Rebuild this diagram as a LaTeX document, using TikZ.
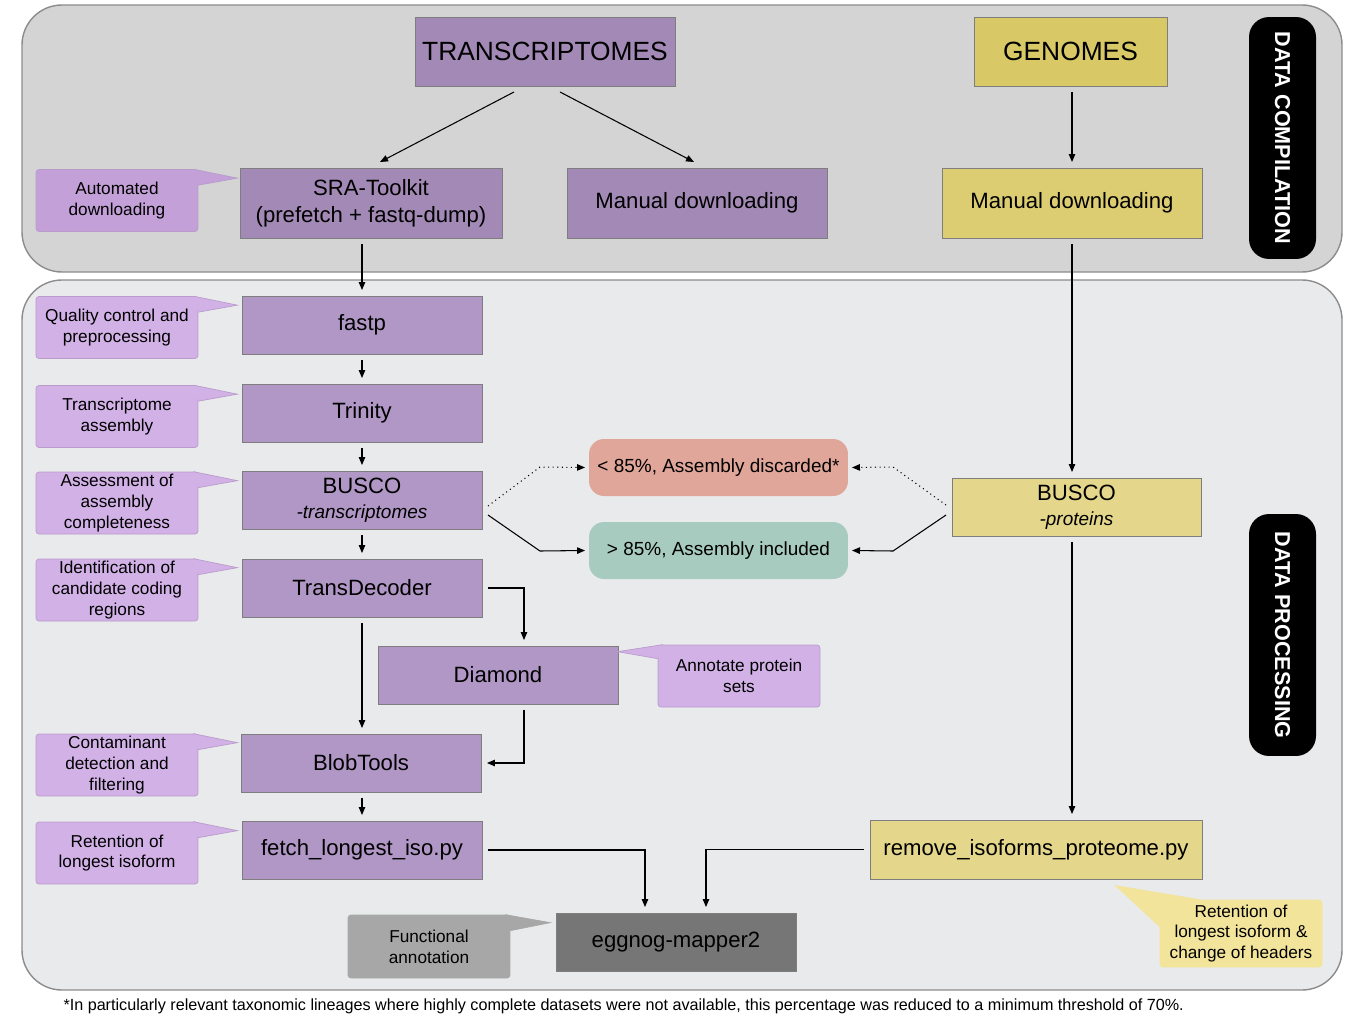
\documentclass[tikz,border=0pt]{standalone}
\usepackage{fontspec}
\setmainfont{Liberation Sans}
\usetikzlibrary{arrows.meta,calc}
\definecolor{toppanel}{HTML}{D3D4D3}
\definecolor{botpanel}{HTML}{E9EAEB}
\definecolor{panelline}{HTML}{8C8C8C}
\definecolor{boxline}{HTML}{7E7E7E}
\definecolor{purpletop}{HTML}{A389B5}
\definecolor{purplebot}{HTML}{B197C5}
\definecolor{notetop}{HTML}{C3A1D8}
\definecolor{notebot}{HTML}{D2B1E7}
\definecolor{noteline}{HTML}{B99CCB}
\definecolor{yellowtop}{HTML}{D9C866}
\definecolor{yellowmid}{HTML}{DCCD72}
\definecolor{yellowbot}{HTML}{E4D68A}
\definecolor{yellownote}{HTML}{F2E49A}
\definecolor{discard}{HTML}{E0A69A}
\definecolor{include}{HTML}{A8CBC0}
\definecolor{eggfill}{HTML}{767676}
\definecolor{grayNote}{HTML}{A6A7A6}
\tikzset{
    >={Triangle[length=0.16cm,width=0.13cm]},
    panel/.style = {draw=panelline, line width=0.8pt, rounded corners=0.8cm},
    box/.style = {draw=boxline, line width=0.5pt, outer sep=0.12cm, align=center, font=\fontsize{12.6}{15.5}\selectfont},
    note/.style = {draw=noteline, line width=0.4pt, rounded corners=0.06cm, minimum width=3.24cm, minimum height=1.24cm, inner sep=0pt, align=center, font=\fontsize{9.8}{11.9}\selectfont},
    pointer/.style = {draw=noteline, line width=0.4pt},
    status/.style = {rounded corners=0.3cm, minimum width=5.18cm, minimum height=1.14cm, outer sep=0.08cm, font=\fontsize{10.8}{13}\selectfont},
    tag/.style = {fill=black, text=white, rounded corners=0.4cm, minimum width=4.84cm, minimum height=1.34cm, rotate=-90, font=\bfseries\fontsize{12.3}{14}\selectfont},
}
\begin{document}
\begin{tikzpicture}[x=0.02cm, y=-0.02cm, line width=0.6pt]
    \useasboundingbox (0,0) rectangle (1365,1024);
    \draw[panel, fill=toppanel] (22,5) rectangle (1342,272);
    \draw[panel, fill=botpanel] (22,280) rectangle (1342,990);
    \node[tag] (compil) at (1282.5,138) {DATA COMPILATION};
    \node[tag] (process) at (1282.5,635) {DATA PROCESSING};

    \node[box, fill=purpletop, minimum width=5.2cm, minimum height=1.38cm, font=\fontsize{15}{18}\selectfont] (trans) at (545,51.5) {TRANSCRIPTOMES};
    \node[box, fill=yellowtop, minimum width=3.86cm, minimum height=1.38cm, font=\fontsize{15}{18}\selectfont] (genomes) at (1070.5,51.5) {GENOMES};
    \node[box, fill=purpletop, minimum width=5.24cm, minimum height=1.4cm] (sra) at (371,203) {SRA-Toolkit\\(prefetch + fastq-dump)};
    \node[box, fill=purpletop, minimum width=5.2cm, minimum height=1.4cm] (manT) at (697,203) {Manual downloading};
    \node[box, fill=yellowmid, minimum width=5.2cm, minimum height=1.4cm] (manG) at (1072,203) {Manual downloading};

    \node[box, fill=purplebot, minimum width=4.8cm, minimum height=1.16cm] (fastp) at (362,325) {fastp};
    \node[box, fill=purplebot, minimum width=4.8cm, minimum height=1.16cm] (trinity) at (362,413) {Trinity};
    \node[box, fill=purplebot, minimum width=4.8cm, minimum height=1.16cm] (buscoT) at (362,500) {BUSCO\\[-1pt]{\fontsize{10.8}{13}\selectfont\itshape -transcriptomes}};
    \node[box, fill=purplebot, minimum width=4.8cm, minimum height=1.16cm] (tdec) at (362,588) {TransDecoder};
    \node[box, fill=purplebot, minimum width=4.8cm, minimum height=1.16cm] (diamond) at (498,675) {Diamond};
    \node[box, fill=purplebot, minimum width=4.8cm, minimum height=1.16cm] (blob) at (361,763) {BlobTools};
    \node[box, fill=purplebot, minimum width=4.8cm, minimum height=1.16cm] (fetch) at (362,850) {fetch\_longest\_iso.py};
    \node[box, fill=eggfill, minimum width=4.8cm, minimum height=1.16cm] (egg) at (676,942) {eggnog-mapper2};
    \node[box, fill=yellowbot, minimum width=4.98cm, minimum height=1.16cm] (buscoP) at (1076.5,507) {BUSCO\\[-1pt]{\fontsize{10.8}{13}\selectfont\itshape -proteins}};
    \node[box, fill=yellowbot, minimum width=6.64cm, minimum height=1.18cm] (remiso) at (1036,849.5) {remove\_isoforms\_proteome.py};
    \node[status, fill=discard] (discard) at (718.5,467.5) {< 85\%, Assembly discarded*};
    \node[status, fill=include] (included) at (718.5,550.5) {> 85\%, Assembly included};

    \foreach \y/\txt/\name/\col in {200.5/{Automated\\downloading}/auto/notetop,
        327.5/{Quality control and\\preprocessing}/quality/notebot,
        416.5/{Transcriptome\\assembly}/assembly/notebot,
        503/{Assessment of\\assembly\\completeness}/assess/notebot,
        590/{Identification of\\candidate coding\\regions}/ident/notebot,
        765/{Contaminant\\detection and\\filtering}/contam/notebot,
        853/{Retention of\\longest isoform}/retain/notebot}
    {
        \node[note, fill=\col] (\name) at (117,\y) {\txt};
        \draw[pointer, fill=\col] ([xshift=-0.1cm]\name.north east) -- ++(44,9) -- ([yshift=-0.32cm]\name.north east);
    }
    \node[note, fill=notebot] (annot) at (739,676) {Annotate protein\\sets};
    \draw[pointer, fill=notebot] ([xshift=0.1cm]annot.north west) -- ++(-45,7) -- ([yshift=-0.28cm]annot.north west);
    \node[note, fill=grayNote, draw=grayNote, minimum height=1.26cm] (func) at (429,946.5) {Functional\\annotation};
    \draw[pointer, fill=grayNote, draw=grayNote] ([xshift=-0.1cm]func.north east) -- ++(45,8) -- ([yshift=-0.32cm]func.north east);
    \node[note, fill=yellownote, draw=yellownote, minimum height=1.34cm] (headers) at (1241,933.5) {Retention of\\longest isoform \&\\change of headers};
    \draw[pointer, fill=yellownote, draw=yellownote] ([xshift=0.8cm]headers.north west) -- ++(-84,-14) -- ([yshift=-0.54cm]headers.north west);

    \draw[->] ($(trans.south)+(-31,0)$) -- ($(sra.north)+(9,0)$);
    \draw[->] ($(trans.south)+(15,0)$) -- ($(manT.north)+(-3,0)$);
    \draw[->] (manG.north |- genomes.south) -- (manG.north);
    \draw[->] (fastp.north |- sra.south) -- (fastp.north);
    \draw[->] (fastp) -- (trinity);
    \draw[->] (trinity) -- (buscoT);
    \draw[->] (buscoT) -- (tdec);
    \draw[->] (tdec.south) -- (tdec.south |- blob.north);
    \draw[->] (blob.south -| fetch.north) -- (fetch.north);
    \draw[->] (tdec.east) -| ($(diamond.north)+(26,0)$);
    \draw[->] ($(diamond.south)+(26,0)$) |- (blob.east);
    \draw[->] (fetch.east) -| ($(egg.north)+(-31,0)$);
    \draw[->] (remiso.west) -| ($(egg.north)+(30,0)$);
    \draw[->] (manG.south) -- (manG.south |- buscoP.north);
    \draw[->] (manG.south |- buscoP.south) -- (manG.south |- remiso.north);
    \draw[->, dotted] ($(buscoT.east)+(0,6)$) -- ++(52,-39) -- (discard.west);
    \draw[->] ($(buscoT.east)+(0,15)$) -- ++(52,36) -- (included.west);
    \draw[->, dotted] ($(buscoP.west)+(0,-2)$) -- ++(-53,-38) -- (discard.east);
    \draw[->] ($(buscoP.west)+(0,8)$) -- ++(-53,36) -- (included.east);

    \node[anchor=west, inner sep=0pt, font=\fontsize{9.2}{11}\selectfont] (foot) at (63,1006) {*In particularly relevant taxonomic lineages where highly complete datasets were not available, this percentage was reduced to a minimum threshold of 70\%.};
\end{tikzpicture}
\end{document}
